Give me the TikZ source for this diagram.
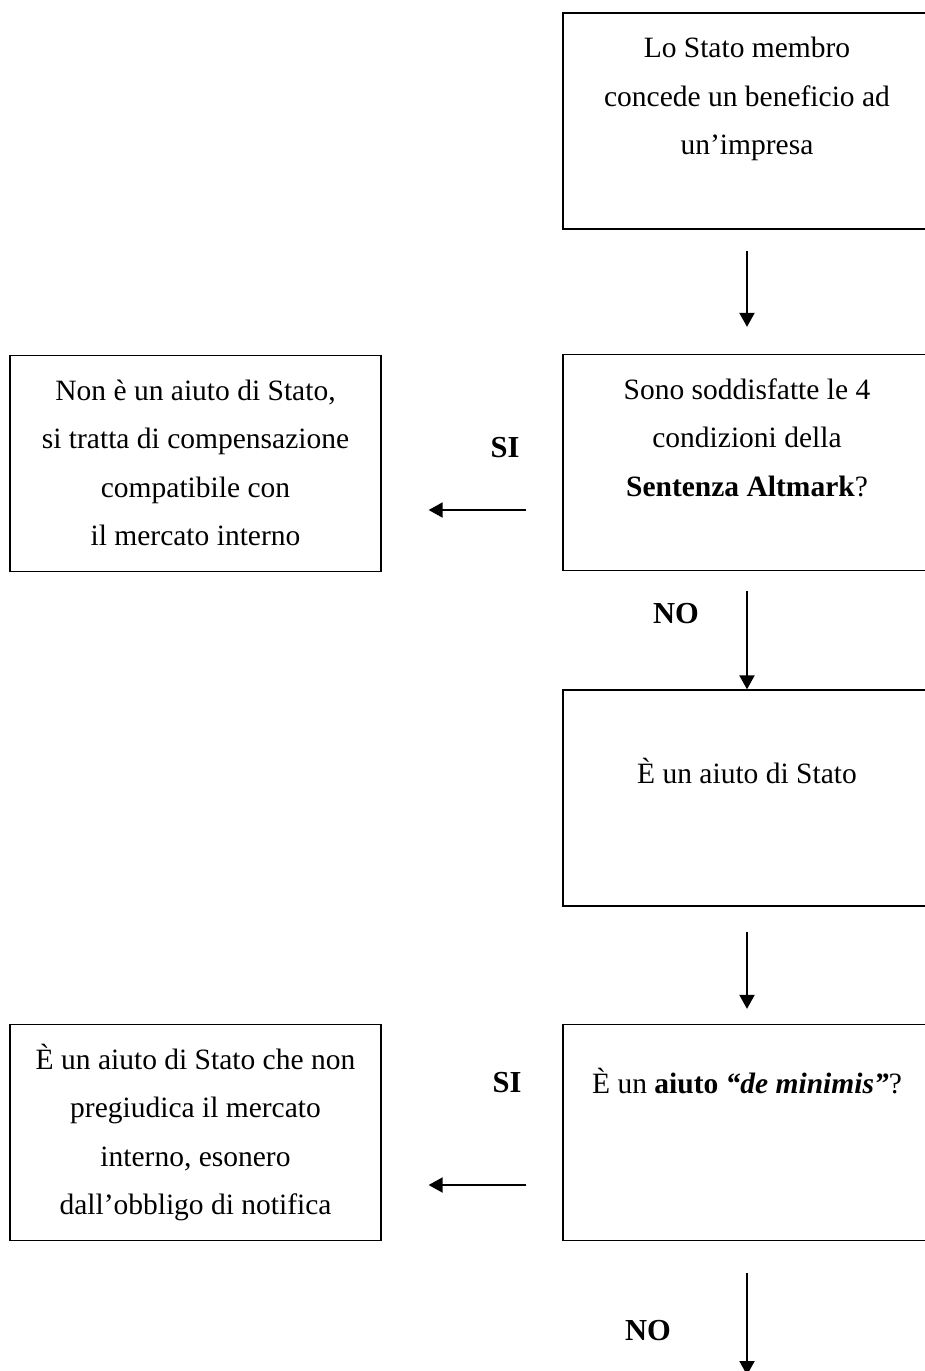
\documentclass[tikz,border=0pt]{standalone}
\usepackage{fontspec}
\setmainfont{Liberation Serif}
\usetikzlibrary{arrows.meta,positioning}

\begin{document}
\begin{tikzpicture}[x=1pt,y=-1pt,
  box/.style={draw,line width=1.3pt,minimum width=368pt,minimum height=216pt,
              inner sep=0pt,align=center,font=\fontsize{29.5}{48.5}\selectfont},
  side/.style={box,minimum width=371pt},
  arr/.style={-{Triangle[length=14pt,width=15pt]},line width=2pt},
  lbl/.style={font=\fontsize{30.5}{34}\selectfont\bfseries}
]
\useasboundingbox (0,0) rectangle (925,1371);
\clip (0,0) rectangle (925,1371);
% right column: boxes run past the page edge
\node[box] (start)   at (747,121)    {\strut Lo Stato membro\\ \strut concede un beneficio ad\\ \strut un'impresa\\ \strut};
\node[box] (altmark) at (747,462.5)  {\strut Sono soddisfatte le 4\\ \strut condizioni della\\ \strut\textbf{Sentenza Altmark}?\\ \strut};
\node[box] (aiuto)   at (747,798)    {\strut\\ \strut È un aiuto di Stato\\ \strut\\ \strut};
\node[box] (minimis) at (747,1132.5) {\strut È un \textbf{aiuto \textit{“de minimis”}}?\\ \strut\\ \strut};
\coordinate (exit) at (747,1375);
% left column
\node[side] (compens) at (195.5,463.5)  {\strut Non è un aiuto di Stato,\\ \strut si tratta di compensazione\\ \strut compatibile con\\ \strut il mercato interno};
\node[side] (esonero) at (195.5,1132.5) {\strut È un aiuto di Stato che non\\ \strut pregiudica il mercato\\ \strut interno, esonero\\ \strut dall'obbligo di notifica};
% labels
\node[lbl] (si1) at (505,448)  {SI};
\node[lbl] (no1) at (676,614)  {NO};
\node[lbl] (si2) at (507,1083) {SI};
\node[lbl] (no2) at (648,1331) {NO};

\draw[arr,shorten <=21pt,shorten >=27pt] (start) -- (altmark);
\draw[arr,shorten <=20pt] (altmark) -- (aiuto);
\draw[arr,shorten <=25pt,shorten >=15pt] (aiuto) -- (minimis);
\draw[arr,shorten <=32pt] (minimis) -- (exit);
% SI branches: horizontal, below the box centres
\draw[arr,shorten <=36pt,shorten >=47pt] ([yshift=-47.5pt]altmark.west) -- ([yshift=-46.5pt]compens.east);
\draw[arr,shorten <=36pt,shorten >=47pt] ([yshift=-52.5pt]minimis.west) -- ([yshift=-52.5pt]esonero.east);
\end{tikzpicture}
\end{document}
